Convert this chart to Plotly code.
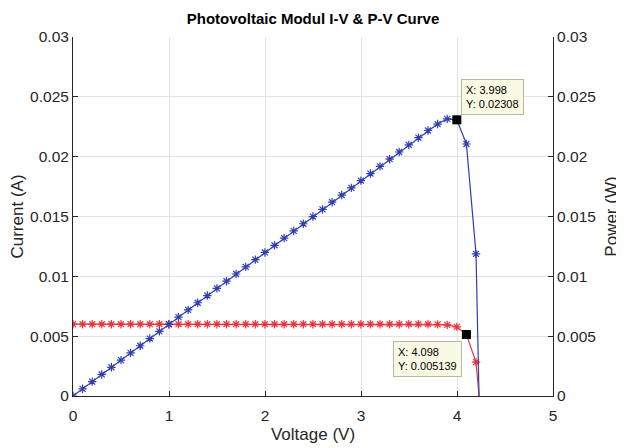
import plotly.graph_objects as go

voltage = [0.0, 0.1, 0.2, 0.3, 0.4, 0.5, 0.6, 0.7, 0.8, 0.9,
           0.999, 1.099, 1.199, 1.299, 1.399, 1.499, 1.599, 1.699, 1.799, 1.899,
           1.999, 2.099, 2.199, 2.299, 2.399, 2.499, 2.599, 2.699, 2.799, 2.899,
           2.999, 3.098, 3.198, 3.298, 3.398, 3.498, 3.598, 3.698, 3.798, 3.898,
           3.998, 4.098, 4.198, 4.298]
current = [0.006] * 38 + [0.005984, 0.00594, 0.005773, 0.005139, 0.00283, -0.006]
power = [0.0, 0.0006, 0.0012, 0.0018, 0.0024, 0.003, 0.0036, 0.0042, 0.0048, 0.0054,
         0.005994, 0.006594, 0.007194, 0.007794, 0.008394, 0.008994, 0.009594, 0.010194, 0.010794, 0.011394,
         0.011994, 0.012594, 0.013194, 0.013794, 0.014394, 0.014994, 0.015594, 0.016194, 0.016794, 0.017394,
         0.017994, 0.018588, 0.019188, 0.019788, 0.020388, 0.020988, 0.021588, 0.022188, 0.022727, 0.023154,
         0.02308, 0.021059, 0.01188, -0.02579]

tip_pv = (3.998, 0.02308)
tip_iv = (4.098, 0.005139)

x_ticks = [0, 1, 2, 3, 4, 5]
y_ticks = [0, 0.005, 0.01, 0.015, 0.02, 0.025, 0.03]
y_tick_text = ["0", "0.005", "0.01", "0.015", "0.02", "0.025", "0.03"]

BLUE = "#2f3fb3"
RED = "#e8323c"
FONT = "Liberation Sans, Arial, sans-serif"
TXT = "#262626"

fig = go.Figure()

fig.add_trace(go.Scatter(
    x=voltage, y=current, mode="lines+markers", name="I-V",
    line=dict(color=RED, width=1.2),
    marker=dict(symbol="asterisk-open", size=7, color=RED, line=dict(color=RED, width=1.2)),
    yaxis="y"))

fig.add_trace(go.Scatter(
    x=voltage, y=power, mode="lines+markers", name="P-V",
    line=dict(color=BLUE, width=1.2),
    marker=dict(symbol="asterisk-open", size=7, color=BLUE, line=dict(color=BLUE, width=1.2)),
    yaxis="y2"))

fig.add_trace(go.Scatter(
    x=[tip_iv[0]], y=[tip_iv[1]], mode="markers",
    marker=dict(symbol="square", size=9, color="black"), yaxis="y"))
fig.add_trace(go.Scatter(
    x=[tip_pv[0]], y=[tip_pv[1]], mode="markers",
    marker=dict(symbol="square", size=9, color="black"), yaxis="y2"))

ann_style = dict(showarrow=False, xanchor="left", yanchor="top", align="left",
                 bgcolor="#f9f9e4", bordercolor="#b8b8a8", borderwidth=1, borderpad=4,
                 font=dict(family=FONT, size=11, color="black"))

fig.add_annotation(x=4.04, y=0.0265, xref="x", yref="y",
                   text=f"X: {tip_pv[0]}<br>Y: {tip_pv[1]}", **ann_style)
fig.add_annotation(x=3.33, y=0.0046, xref="x", yref="y",
                   text=f"X: {tip_iv[0]}<br>Y: {tip_iv[1]}", **ann_style)

axis_common = dict(showline=True, linecolor="#262626", linewidth=1, mirror=False,
                   ticks="inside", ticklen=5, tickcolor="#262626", automargin=False,
                   showgrid=True, gridcolor="#e3e3e3", gridwidth=1, zeroline=False,
                   tickfont=dict(family=FONT, size=15.5, color=TXT))

TITLE_FONT = dict(family=FONT, size=17, color=TXT)

fig.update_layout(
    width=624, height=448,
    margin=dict(l=65, r=79, t=29, b=60),
    paper_bgcolor="white", plot_bgcolor="white",
    showlegend=False,
    title=dict(text="<b>Photovoltaic Modul I-V & P-V Curve</b>", x=(73 + 553) / 2 / 624 - 8 / 624,
               xanchor="center", y=0.975, yanchor="middle",
               font=dict(family=FONT, size=15, color="black")),
    xaxis=dict(range=[0, 5], tickvals=x_ticks, ticklabelstandoff=5,
               title=dict(text="Voltage (V)", font=TITLE_FONT, standoff=5),
               **axis_common),
    yaxis=dict(range=[0, 0.03], tickvals=y_ticks, ticktext=y_tick_text,
               title=dict(text="Current (A)", font=TITLE_FONT, standoff=3),
               **axis_common),
    yaxis2=dict(range=[0, 0.03], tickvals=y_ticks, ticktext=y_tick_text, overlaying="y", side="right",
                title=dict(text="Power (W)", font=TITLE_FONT, standoff=10),
                **{**axis_common, "showgrid": False}),
)

fig.write_html("out.html")
